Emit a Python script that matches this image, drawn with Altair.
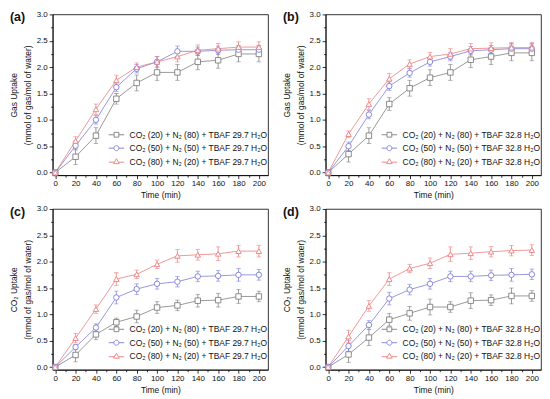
import altair as alt
import pandas as pd

FONT = "Liberation Sans"

TIME = [0, 20, 40, 60, 80, 100, 120, 140, 160, 180, 200]
X_MAJOR = [0, 20, 40, 60, 80, 100, 120, 140, 160, 180, 200]
X_MINOR = [10, 30, 50, 70, 90, 110, 130, 150, 170, 190]
Y_MAJOR = [0.0, 0.5, 1.0, 1.5, 2.0, 2.5, 3.0]
Y_MINOR = [0.25, 0.75, 1.25, 1.75, 2.25, 2.75]

COLORS = ["#7f7f7f", "#7d7dd8", "#ee7d7d"]
SHAPES = ["square", "circle", "triangle-up"]
LEGEND_SHAPES = [
    "M-2.6,0H-0.8M0.8,0H2.6M-0.8,-0.8H0.8V0.8H-0.8Z",
    "M-2.6,0H-0.85M0.85,0H2.6M-0.85,0A0.85,0.85 0 1,0 0.85,0A0.85,0.85 0 1,0 -0.85,0Z",
    "M-2.6,0.2H-0.75M0.75,0.2H2.6M0,-0.95L0.95,0.7H-0.95Z",
]

# Panel (a): gas uptake, TBAF 29.7 H2O
A_20 = [0, 0.30, 0.70, 1.40, 1.70, 1.90, 1.90, 2.10, 2.13, 2.25, 2.25]
A_20_ERR = [0, 0.15, 0.15, 0.10, 0.15, 0.15, 0.15, 0.15, 0.15, 0.15, 0.15]
A_50 = [0, 0.51, 1.00, 1.62, 1.97, 2.10, 2.30, 2.30, 2.32, 2.33, 2.33]
A_50_ERR = [0, 0.08, 0.08, 0.08, 0.08, 0.10, 0.10, 0.08, 0.08, 0.08, 0.08]
A_80 = [0, 0.60, 1.20, 1.75, 2.00, 2.10, 2.20, 2.32, 2.35, 2.38, 2.38]
A_80_ERR = [0, 0.08, 0.10, 0.10, 0.08, 0.10, 0.10, 0.10, 0.10, 0.10, 0.10]

# Panel (b): gas uptake, TBAF 32.8 H2O
B_20 = [0, 0.35, 0.70, 1.30, 1.60, 1.80, 1.90, 2.14, 2.20, 2.27, 2.27]
B_20_ERR = [0, 0.15, 0.15, 0.12, 0.15, 0.15, 0.15, 0.15, 0.15, 0.15, 0.15]
B_50 = [0, 0.50, 1.10, 1.64, 1.89, 2.10, 2.20, 2.31, 2.33, 2.35, 2.35]
B_50_ERR = [0, 0.08, 0.08, 0.08, 0.08, 0.08, 0.08, 0.08, 0.08, 0.10, 0.10]
B_80 = [0, 0.73, 1.30, 1.78, 2.06, 2.20, 2.25, 2.35, 2.36, 2.37, 2.37]
B_80_ERR = [0, 0.06, 0.10, 0.10, 0.08, 0.08, 0.10, 0.10, 0.10, 0.10, 0.10]

# Panel (c): CO2 uptake, TBAF 29.7 H2O
C_20 = [0, 0.23, 0.62, 0.85, 0.96, 1.13, 1.17, 1.26, 1.27, 1.34, 1.34]
C_20_ERR = [0, 0.13, 0.10, 0.08, 0.12, 0.11, 0.10, 0.12, 0.13, 0.13, 0.10]
C_50 = [0, 0.38, 0.75, 1.32, 1.48, 1.58, 1.62, 1.72, 1.73, 1.75, 1.75]
C_50_ERR = [0, 0.05, 0.07, 0.12, 0.10, 0.10, 0.10, 0.10, 0.10, 0.12, 0.10]
C_80 = [0, 0.55, 1.10, 1.67, 1.76, 1.95, 2.11, 2.13, 2.15, 2.20, 2.20]
C_80_ERR = [0, 0.09, 0.08, 0.12, 0.08, 0.08, 0.12, 0.10, 0.13, 0.11, 0.11]

# Panel (d): CO2 uptake, TBAF 32.8 H2O
D_20 = [0, 0.24, 0.56, 0.90, 1.02, 1.14, 1.14, 1.26, 1.27, 1.35, 1.35]
D_20_ERR = [0, 0.15, 0.15, 0.12, 0.13, 0.15, 0.10, 0.15, 0.10, 0.15, 0.10]
D_50 = [0, 0.40, 0.80, 1.30, 1.47, 1.58, 1.72, 1.72, 1.74, 1.75, 1.76]
D_50_ERR = [0, 0.10, 0.08, 0.12, 0.10, 0.10, 0.10, 0.10, 0.10, 0.12, 0.10]
D_80 = [0, 0.58, 1.16, 1.67, 1.87, 1.97, 2.14, 2.16, 2.19, 2.21, 2.22]
D_80_ERR = [0, 0.12, 0.10, 0.12, 0.08, 0.10, 0.14, 0.12, 0.10, 0.10, 0.10]

GAS_TITLE = ["Gas Uptake", "(mmol of gas/mol of water)"]
CO2_TITLE = ["CO\u2082 Uptake", "(mmol of gas/mol of water)"]

W, H = 217, 162


def panel(tag, ytitle, water, series):
    labels = [
        f"CO\u2082 (20) + N\u2082 (80) + TBAF {water} H\u2082O",
        f"CO\u2082 (50) + N\u2082 (50) + TBAF {water} H\u2082O",
        f"CO\u2082 (80) + N\u2082 (20) + TBAF {water} H\u2082O",
    ]
    rows = []
    for lab, (vals, errs) in zip(labels, series):
        for t, v, e in zip(TIME, vals, errs):
            rows.append({"t": t, "v": v, "lo": v - e, "hi": v + e, "e": e, "s": lab, "m": lab})
    df = pd.DataFrame(rows)

    xs = alt.Scale(domain=[-2.5, 209], nice=False, zero=False)
    ys = alt.Scale(domain=[-0.05, 3.0], nice=False, zero=False)
    cs = alt.Scale(domain=labels, range=COLORS)
    ss = alt.Scale(domain=labels, range=SHAPES)
    ls = alt.Scale(domain=labels, range=LEGEND_SHAPES)

    legend = alt.Legend(
        title=None, orient="none", legendX=60, legendY=117, padding=0,
        labelFont=FONT, labelFontSize=8.5, labelColor="#111", labelLimit=400,
        labelOffset=9, rowPadding=3.5, symbolSize=36, symbolStrokeWidth=0.9,
        symbolFillColor="transparent", symbolOpacity=1,
    )

    major_x = alt.Axis(orient="bottom", values=X_MAJOR, title="Time (min)", tickSize=3.5,
                       labelPadding=1, titlePadding=3, grid=False, titleFontWeight="normal")
    major_y = alt.Axis(orient="left", values=Y_MAJOR, format=".1f", title=ytitle, tickSize=3.5,
                       labelPadding=2, titlePadding=4, titleLineHeight=14, grid=False,
                       titleFontWeight="normal")
    minor_x = alt.Axis(orient="bottom", values=X_MINOR, labels=False, title=None, tickSize=2,
                       domain=False, grid=False)
    minor_y = alt.Axis(orient="left", values=Y_MINOR, labels=False, title=None, tickSize=2,
                       domain=False, grid=False)

    base = alt.Chart(df)
    lines = base.mark_line(strokeWidth=0.8).encode(
        x=alt.X("t:Q", scale=xs, axis=major_x),
        y=alt.Y("v:Q", scale=ys, axis=major_y),
        color=alt.Color("s:N", scale=cs, legend=None),
    )
    errs = base.transform_filter("datum.e > 0").mark_errorbar(
        ticks={"size": 4.5, "thickness": 0.8}, thickness=0.8
    ).encode(
        x=alt.X("t:Q", scale=xs, axis=None),
        y=alt.Y("lo:Q", scale=ys, axis=None),
        y2="hi:Q",
        color=alt.Color("s:N", scale=cs, legend=None),
    )
    pts = base.mark_point(size=30, strokeWidth=0.9, fill="white", filled=False, opacity=1).encode(
        x=alt.X("t:Q", scale=xs, axis=None),
        y=alt.Y("v:Q", scale=ys, axis=None),
        color=alt.Color("s:N", scale=cs, legend=None),
        shape=alt.Shape("m:N", scale=ss, legend=None),
    )
    # invisible layer carrying the legend (line + marker symbols)
    leg = base.mark_point(opacity=0, filled=False).encode(
        x=alt.X("t:Q", scale=xs, axis=None),
        y=alt.Y("v:Q", scale=ys, axis=None),
        color=alt.Color("s:N", scale=cs, legend=legend),
        shape=alt.Shape("s:N", scale=ls, legend=legend),
    )
    minor = base.mark_point(opacity=0).encode(
        x=alt.X("t:Q", scale=xs, axis=minor_x),
        y=alt.Y("v:Q", scale=ys, axis=minor_y),
    )
    tag_layer = alt.Chart(pd.DataFrame({"tag": [tag]})).mark_text(
        align="left", baseline="middle", font=FONT, fontSize=12.5, fontWeight="bold", color="#111"
    ).encode(text="tag:N", x=alt.value(-43), y=alt.value(3))

    return alt.layer(lines, errs, pts, leg, minor, tag_layer).resolve_axis(
        x="independent", y="independent"
    ).resolve_scale(shape="independent", color="independent").properties(width=W, height=H)


pa = panel("(a)", GAS_TITLE, "29.7", [(A_20, A_20_ERR), (A_50, A_50_ERR), (A_80, A_80_ERR)])
pb = panel("(b)", GAS_TITLE, "32.8", [(B_20, B_20_ERR), (B_50, B_50_ERR), (B_80, B_80_ERR)])
pc = panel("(c)", CO2_TITLE, "29.7", [(C_20, C_20_ERR), (C_50, C_50_ERR), (C_80, C_80_ERR)])
pd_ = panel("(d)", CO2_TITLE, "32.8", [(D_20, D_20_ERR), (D_50, D_50_ERR), (D_80, D_80_ERR)])

top = alt.hconcat(pa, pb, spacing=12).resolve_scale(color="independent", shape="independent")
bottom = alt.hconcat(pc, pd_, spacing=12).resolve_scale(color="independent", shape="independent")

chart = alt.vconcat(top, bottom, spacing=4).resolve_scale(
    color="independent", shape="independent"
).properties(
    padding={"left": 0, "top": 0, "right": 0, "bottom": 0}, background="white"
).configure_view(
    stroke="black", strokeWidth=0.8
).configure_axis(
    labelFont=FONT, labelFontSize=8, labelColor="#111", titleFont=FONT, titleFontSize=8.5,
    titleFontWeight="normal", titleColor="#111", domainColor="black", domainWidth=0.8,
    tickColor="black", tickWidth=0.8,
)

chart.save("out.html", embed_options={"renderer": "svg", "actions": False})
